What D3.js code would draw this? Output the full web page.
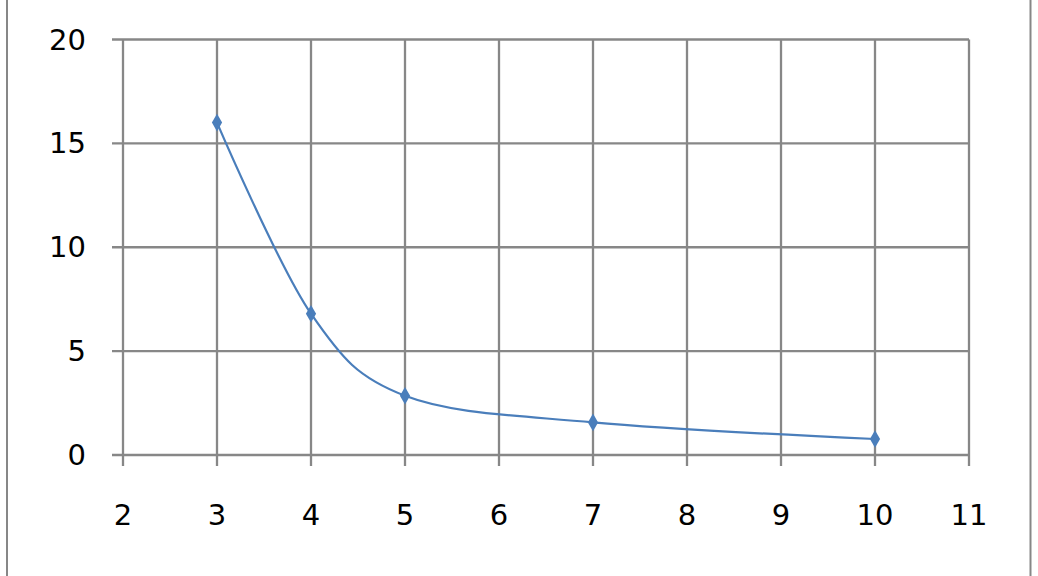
<!DOCTYPE html>
<html>
<head>
<meta charset="utf-8">
<script src="https://cdn.jsdelivr.net/npm/d3@7"></script>
<style>
  html, body { margin: 0; padding: 0; background: #fff; }
  svg { display: block; }
</style>
</head>
<body>
<svg id="chart" width="1038" height="576"></svg>
<script>
const xValues = [3, 4, 5, 7, 10];
const yValues = [16, 6.8, 2.85, 1.57, 0.77];
const xTicks = [2, 3, 4, 5, 6, 7, 8, 9, 10, 11];
const yTicks = [0, 5, 10, 15, 20];

const svg = d3.select("#chart");
const W = 1038, H = 576;
const plotLeft = 123, plotRight = 969, plotTop = 39.5, plotBottom = 455;

const x = d3.scaleLinear().domain([2, 11]).range([plotLeft, plotRight]);
const y = d3.scaleLinear().domain([0, 20]).range([plotBottom, plotTop]);

const gridColor = "#878787";

// outer frame
svg.append("rect")
  .attr("x", 7).attr("y", -10)
  .attr("width", 1030.5 - 7).attr("height", H + 20)
  .attr("fill", "none").attr("stroke", gridColor).attr("stroke-width", 2);

// gridlines
svg.append("g").selectAll("line").data(xTicks).join("line")
  .attr("x1", d => x(d)).attr("x2", d => x(d))
  .attr("y1", plotTop).attr("y2", plotBottom + 11)
  .attr("stroke", gridColor).attr("stroke-width", 2.3);
svg.append("g").selectAll("line").data(yTicks).join("line")
  .attr("x1", plotLeft - 11).attr("x2", plotRight)
  .attr("y1", d => y(d)).attr("y2", d => y(d))
  .attr("stroke", gridColor).attr("stroke-width", 2.3);

// labels
svg.append("g").selectAll("text").data(yTicks).join("text")
  .attr("x", 86).attr("y", d => y(d))
  .attr("text-anchor", "end").attr("dominant-baseline", "central")
  .attr("font-family", "DejaVu Sans, sans-serif").attr("font-size", 29)
  .attr("fill", "#000").text(d => d);
svg.append("g").selectAll("text").data(xTicks).join("text")
  .attr("x", d => x(d)).attr("y", 515)
  .attr("text-anchor", "middle").attr("dominant-baseline", "central")
  .attr("font-family", "DejaVu Sans, sans-serif").attr("font-size", 29)
  .attr("fill", "#000").text(d => d);

const pts = xValues.map((v, i) => [v, yValues[i]]);
const line = d3.line().x(d => x(d[0])).y(d => y(d[1])).curve(d3.curveCatmullRom.alpha(0));
svg.append("path").datum(pts)
  .attr("d", line).attr("fill", "none")
  .attr("stroke", "#4a7ebb").attr("stroke-width", 2.2);

svg.append("g").selectAll("path").data(pts).join("path")
  .attr("transform", d => `translate(${x(d[0])},${y(d[1])})`)
  .attr("d", d3.symbol(d3.symbolDiamond, 90)())
  .attr("fill", "#4a7ebb");
</script>
</body>
</html>
